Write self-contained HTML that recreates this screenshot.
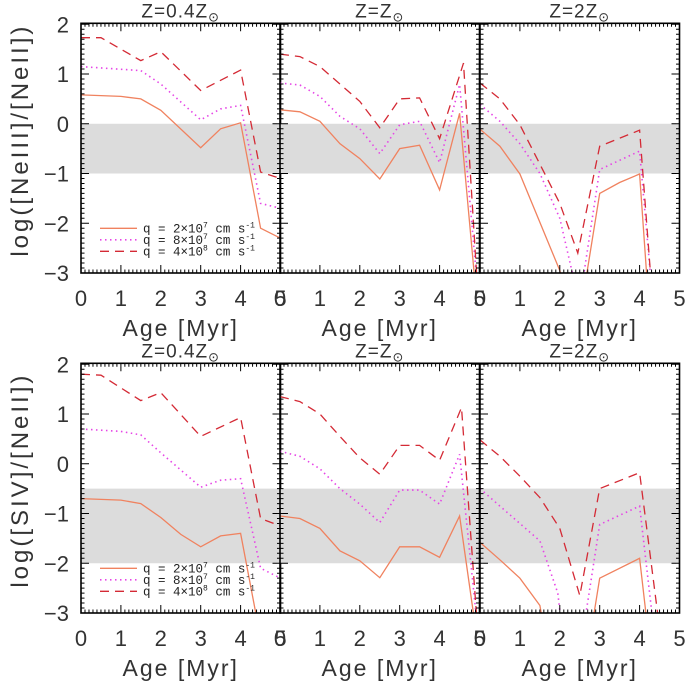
<!DOCTYPE html>
<html><head><meta charset="utf-8"><style>
html,body{margin:0;padding:0;background:#fff}
svg{display:block;font-family:"Liberation Sans","DejaVu Sans",sans-serif}
</style></head><body>
<svg id="c" width="686" height="681" viewBox="0 0 686 681" xmlns="http://www.w3.org/2000/svg"></svg>
<script>
const ages = [0,1,2,3,4,5];
const yTicks = [-3,-2,-1,0,1,2];
const titles = ["Z=0.4Z","Z=Z","Z=2Z"];
const rowLabels = ["log([NeIII]/[NeII])","log([SIV]/[NeII])"];
const bands = [[-1,0],[-2,-0.5]];
const legendLabels = [["2","7"],["8","7"],["4","8"]];
// series [row][panel][q] as x,y pairs
const r0p0q0=[[0,0.58],[1,0.55],[1.5,0.5],[2,0.27],[3,-0.48],[3.5,-0.1],[4,0.02],[4.5,-2.1],[5,-2.3]];
const r0p0q1=[[0,1.15],[1.5,1.07],[2,0.8],[3,0.08],[3.5,0.3],[4,0.37],[4.5,-1.6],[5,-1.7]];
const r0p0q2=[[0,1.73],[0.5,1.73],[1.5,1.27],[2,1.45],[3,0.67],[4,1.08],[4.5,-0.97],[5,-1.1]];
const r0p1q0=[[0,0.28],[0.5,0.24],[1,0.05],[1.5,-0.4],[2,-0.7],[2.5,-1.11],[3,-0.5],[3.5,-0.43],[4,-1.33],[4.5,0.21],[4.9,-3.3]];
const r0p1q1=[[0,0.82],[0.5,0.78],[1,0.55],[1.5,0.15],[2,-0.1],[2.5,-0.6],[3,-0.02],[3.5,0.05],[4,-0.78],[4.5,0.79],[4.95,-3.3]];
const r0p1q2=[[0,1.4],[0.5,1.35],[1,1.15],[1.5,0.8],[2,0.45],[2.5,-0.08],[3,0.5],[3.5,0.52],[4,-0.3],[4.6,1.22],[4.95,-3.3]];
const r0p2q0=[[0,-0.11],[0.5,-0.45],[1,-1.01],[2,-2.95],[2.1,-3.3],[2.62,-3.3],[2.68,-3],[3,-1.4],[3.5,-1.18],[4,-1.01],[4.2,-3.3]];
const r0p2q1=[[0,0.39],[0.5,0.05],[1,-0.4],[1.5,-1.0],[2,-1.9],[2.4,-3.3],[2.55,-3.3],[3,-0.92],[4,-0.55],[4.3,-3.3]];
const r0p2q2=[[0,0.82],[0.5,0.5],[1,-0.02],[2,-1.6],[2.45,-2.6],[3,-0.45],[4,-0.13],[4.3,-3.3]];
const r1p0q0=[[0,-0.7],[1,-0.73],[1.5,-0.8],[2,-1.08],[2.5,-1.42],[3,-1.67],[3.5,-1.45],[4,-1.4],[4.45,-3.3]];
const r1p0q1=[[0,0.7],[1,0.65],[1.5,0.58],[2,0.22],[3,-0.47],[3.5,-0.33],[4,-0.3],[4.5,-2.1],[5,-2.3]];
const r1p0q2=[[0,1.8],[0.5,1.78],[1.5,1.27],[2,1.43],[3,0.55],[4,0.93],[4.5,-1.1],[5,-1.25]];
const r1p1q0=[[0,-1.05],[0.5,-1.1],[1,-1.3],[1.5,-1.75],[2,-1.95],[2.5,-2.29],[3,-1.67],[3.5,-1.67],[4,-1.88],[4.5,-1.05],[4.9,-3.3]];
const r1p1q1=[[0,0.25],[0.5,0.15],[1,-0.1],[1.5,-0.5],[2,-0.81],[2.5,-1.18],[3,-0.53],[3.5,-0.53],[4,-0.81],[4.5,0.19],[4.95,-3.3]];
const r1p1q2=[[0,1.35],[0.5,1.25],[1,1.0],[1.5,0.55],[2,0.12],[2.5,-0.21],[3,0.37],[3.5,0.37],[4,0.07],[4.55,1.13],[4.95,-3.3]];
const r1p2q0=[[0,-1.58],[0.5,-1.93],[1,-2.3],[1.5,-2.85],[1.6,-3.3],[2.8,-3.3],[3,-2.3],[4,-1.9],[4.2,-3.3]];
const r1p2q1=[[0,-0.5],[0.5,-0.85],[1,-1.2],[1.5,-1.55],[1.95,-2.6],[2.05,-3.3],[2.6,-3.3],[3,-1.22],[4,-0.85],[4.35,-3.3]];
const r1p2q2=[[0,0.48],[0.5,0.15],[1,-0.25],[1.5,-0.68],[2,-1.3],[2.5,-2.65],[3,-0.5],[4,-0.18],[4.5,-3.3]];
const series=[[[r0p0q0,r0p0q1,r0p0q2],[r0p1q0,r0p1q1,r0p1q2],[r0p2q0,r0p2q1,r0p2q2]],
              [[r1p0q0,r1p0q1,r1p0q2],[r1p1q0,r1p1q1,r1p1q2],[r1p2q0,r1p2q1,r1p2q2]]];

const NS="http://www.w3.org/2000/svg";
const svg=document.getElementById('c');
const colors=["#f0825f","#e645e6","#d42a35"];
const dashes=["","1.5 3.5","9 6"];
const panelX=[81,280,480], panelW=199.5, rowTop=[23.3,363.3], panelH=249.7;
const yMin=-3,yMax=2.02;
function mk(tag,attrs,parent){const e=document.createElementNS(NS,tag);for(const k in attrs)e.setAttribute(k,attrs[k]);(parent||svg).appendChild(e);return e;}
function xs(p,v){return panelX[p]+v/5*panelW;}
function ys(r,v){return rowTop[r]+(yMax-v)/(yMax-yMin)*panelH;}

const defs=mk('defs',{});
for(let r=0;r<2;r++)for(let p=0;p<3;p++){
  const cp=mk('clipPath',{id:'cp'+r+p},defs);
  mk('rect',{x:panelX[p],y:rowTop[r],width:panelW,height:panelH},cp);
}

for(let r=0;r<2;r++){
  const yl=mk('text',{x:0,y:0,'font-size':24,'letter-spacing':3,'text-anchor':'middle',fill:'#333',transform:`translate(28,${rowTop[r]+panelH/2-8}) rotate(-90)`});
  yl.textContent=rowLabels[r];
  
  
  for(let p=0;p<3;p++){
    const g=mk('g',{});
    
    
    const x0=panelX[p],x1=x0+panelW,y0=rowTop[r],y1=y0+panelH;
    const b=mk('rect',{x:x0,y:ys(r,bands[r][1]),width:panelW,height:ys(r,bands[r][0])-ys(r,bands[r][1]),fill:'#dcdcdc'},g);
    
    
    const lg=mk('g',{'clip-path':`url(#cp${r}${p})`},g);
    for(let q=0;q<3;q++){
      const d=series[r][p][q].map((pt,i)=>(i?'L':'M')+xs(p,pt[0]).toFixed(1)+' '+ys(r,pt[1]).toFixed(1)).join(' ');
      const path=mk('path',{d:d,fill:'none',stroke:colors[q],'stroke-width':q==1?1.6:1.3,'stroke-dasharray':dashes[q]},lg);
      
      
    }
    let t='';
    for(let i=0;i<=50;i++){const v=i/10,x=xs(p,v),L=(i%10==0)?8:3.5;t+=`M${x} ${y1}v${-L}M${x} ${y0}v${L}`;}
    for(let i=0;i<=50;i++){const v=yMin+i/10;if(v>yMax)break;const y=ys(r,v),L=(i%10==0)?8:3.5;t+=`M${x0} ${y}h${L}M${x1} ${y}h${-L}`;}
    mk('path',{d:t,stroke:'#000','stroke-width':1,fill:'none'},g);
    mk('rect',{x:x0,y:y0,width:panelW,height:panelH,fill:'none',stroke:'#000','stroke-width':1.6},g);
    ages.forEach(a=>{const tx=mk('text',{x:xs(p,a),y:y1+33,'font-size':22,'text-anchor':'middle',fill:'#333'},g);tx.textContent=a;});
    if(p==0) yTicks.forEach(v=>{const tx=mk('text',{x:x0-12,y:ys(r,v)+8,'font-size':22,'text-anchor':'end',fill:'#333'},g);tx.textContent=(v<0?'\u2212'+(-v):v);});
    const xl=mk('text',{x:x0+panelW/2,y:y1+63,'font-size':23,'letter-spacing':2,'text-anchor':'middle',fill:'#333'},g);
    xl.textContent='Age [Myr]';
    
    
    const tt=mk('text',{x:x0+panelW/2,y:y0-6,'font-size':19,'letter-spacing':1,'text-anchor':'middle',fill:'#333'},g);
    tt.innerHTML=titles[p]+'<tspan font-size="13" dy="4">\u2299</tspan>';
    
    
    if(p==0){
      const lgd=mk('g',{},g);
      
      
      for(let q=0;q<3;q++){
        const yy=y0+205+q*11.5;
        mk('line',{x1:100,x2:137,y1:yy,y2:yy,stroke:colors[q],'stroke-width':q==1?1.6:1.3,'stroke-dasharray':dashes[q]},lgd);
        const lt=mk('text',{x:143,y:yy+4,'font-size':12.5,fill:'#222','font-family':'Liberation Mono, monospace'},lgd);
        lt.innerHTML=`q = ${legendLabels[q][0]}\u00d710<tspan font-size="8" dy="-5">${legendLabels[q][1]}</tspan><tspan dy="5"> cm s</tspan><tspan font-size="8" dy="-5">-1</tspan>`;
        
        
      }
    }
  }
}
</script>
</body></html>
